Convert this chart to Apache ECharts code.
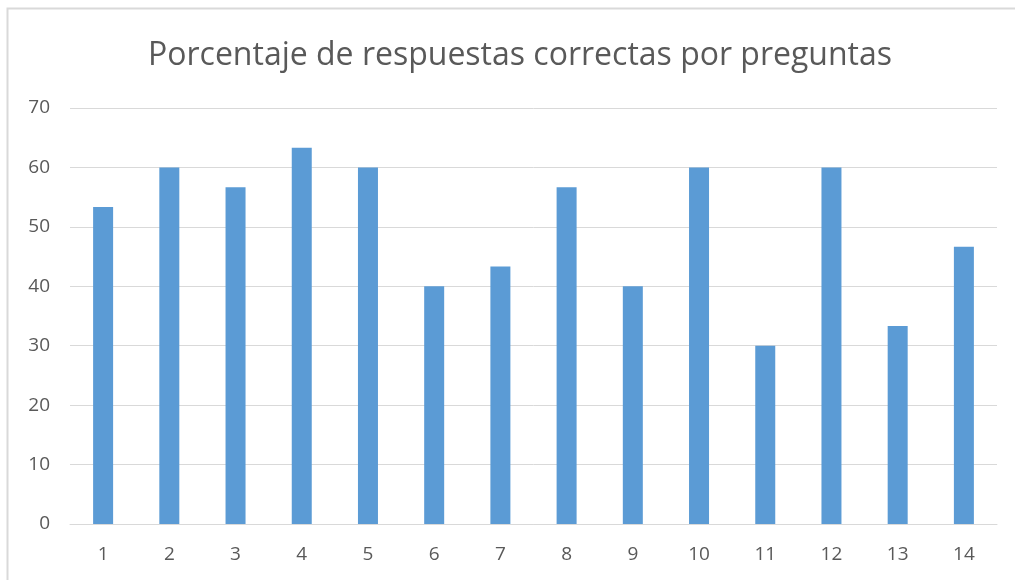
<!DOCTYPE html>
<html>
<head>
<meta charset="utf-8">
<script src="https://cdn.jsdelivr.net/npm/echarts@6/dist/echarts.min.js"></script>
<style>
  html, body { margin: 0; padding: 0; background: #ffffff; }
  #chart { width: 1015px; height: 580px; }
</style>
</head>
<body>
<div id="chart"></div>
<script>
// Question numbers and share of correct answers (%)
const preguntas = ['1', '2', '3', '4', '5', '6', '7', '8', '9', '10', '11', '12', '13', '14'];
const porcentajes = [53.33, 60, 56.67, 63.33, 60, 40, 43.33, 56.67, 40, 60, 30, 60, 33.33, 46.67];
const titulo = 'Porcentaje de respuestas correctas por preguntas';

const chart = echarts.init(document.getElementById('chart'), null, { renderer: 'canvas' });
const labelFont = '"Open Sans", "Liberation Sans", sans-serif';

chart.setOption({
  backgroundColor: '#ffffff',
  animation: false,
  graphic: [{
    type: 'rect',
    shape: { x: 7.5, y: 8.5, width: 1030, height: 600 },
    style: { fill: 'none', stroke: '#D9D9D9', lineWidth: 2 },
    silent: true,
    z: -1
  }],
  title: {
    text: titulo,
    left: 515,
    textAlign: 'center',
    top: 35,
    textStyle: {
      fontFamily: labelFont,
      fontSize: 32,
      fontWeight: 'normal',
      color: '#595959'
    }
  },
  grid: { left: 70, right: 18, top: 108, bottom: 56 },
  xAxis: {
    type: 'category',
    data: preguntas,
    axisLine: { lineStyle: { color: '#D9D9D9', width: 1 } },
    axisTick: { show: false },
    axisLabel: { color: '#595959', fontSize: 19, fontFamily: labelFont, margin: 21 }
  },
  yAxis: {
    type: 'value',
    min: 0,
    max: 70,
    interval: 10,
    axisLine: { show: false },
    axisTick: { show: false },
    splitLine: { lineStyle: { color: '#D9D9D9', width: 1 } },
    axisLabel: { color: '#595959', fontSize: 19, fontFamily: labelFont, margin: 20 }
  },
  series: [{
    type: 'bar',
    data: porcentajes,
    barWidth: 20,
    itemStyle: { color: '#5B9BD5' }
  }]
});
</script>
</body>
</html>
